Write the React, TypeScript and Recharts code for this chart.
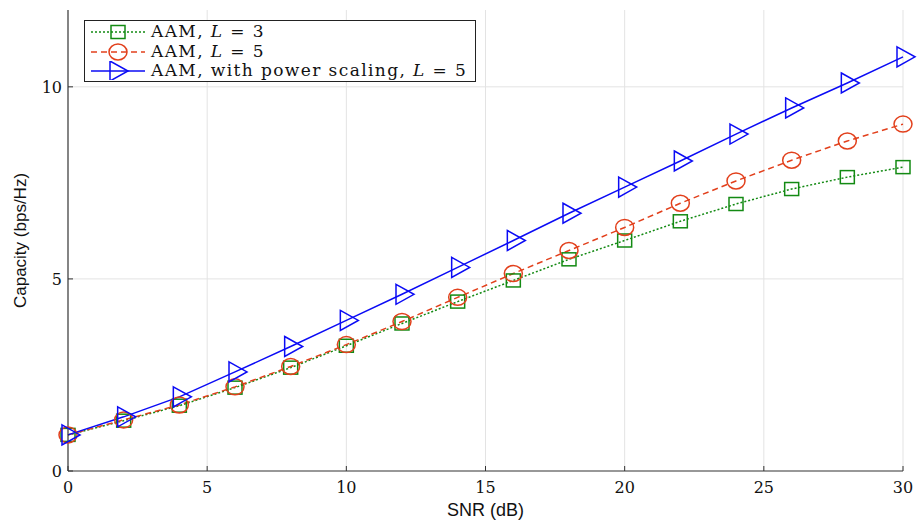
import React from "react";
import { CartesianGrid, Line, LineChart, XAxis, YAxis } from "recharts";

const snr = [0, 2, 4, 6, 8, 10, 12, 14, 16, 18, 20, 22, 24, 26, 28, 30];
const aamL3 = [0.94, 1.31, 1.7, 2.17, 2.69, 3.26, 3.84, 4.41, 4.96, 5.51, 6.0, 6.5, 6.95, 7.34, 7.65, 7.91];
const aamL5 = [0.94, 1.33, 1.72, 2.19, 2.72, 3.29, 3.89, 4.52, 5.14, 5.74, 6.34, 6.97, 7.55, 8.09, 8.59, 9.03];
const aamScaled = [0.94, 1.41, 1.93, 2.58, 3.24, 3.92, 4.6, 5.3, 6.0, 6.71, 7.39, 8.07, 8.77, 9.45, 10.1, 10.78];
const xTicks = [0, 5, 10, 15, 20, 25, 30];
const yTicks = [0, 5, 10];
const xGrid = [5, 10, 15, 20, 25, 30];
const yGrid = [5, 10];

const GREEN = "#138a13";
const RED = "#e2401c";
const BLUE = "#0b0bf5";
const SERIF = "DejaVu Serif";
const SANS = "Liberation Sans";

const data = snr.map((x, i) => ({ snr: x, l3: aamL3[i], l5: aamL5[i], ps: aamScaled[i] }));

type Mark = "square" | "circle" | "triangle";

function Marker({ kind, cx, cy, color }: { kind: Mark; cx: number; cy: number; color: string }) {
  if (kind === "square") {
    return <rect x={cx - 7} y={cy - 6.5} width={14} height={13} fill="none" stroke={color} strokeWidth={1.5} />;
  }
  if (kind === "circle") {
    return <ellipse cx={cx} cy={cy} rx={9} ry={8} fill="none" stroke={color} strokeWidth={1.5} />;
  }
  return (
    <polygon
      points={`${cx - 6},${cy - 10} ${cx + 12},${cy} ${cx - 6},${cy + 10}`}
      fill="none"
      stroke={color}
      strokeWidth={1.5}
    />
  );
}

function dotFor(kind: Mark, color: string) {
  return (props: any) => (
    <Marker key={`${kind}-${props.index}`} kind={kind} cx={props.cx} cy={props.cy} color={color} />
  );
}

function renderXTick(props: any) {
  const { x, y, payload } = props;
  return (
    <g key={`xt-${payload.value}`}>
      <line x1={x} x2={x} y1={y - 10} y2={y - 15} stroke="#333" strokeWidth={1} />
      <text x={x} y={y + 12} textAnchor="middle" style={{ fontFamily: SERIF, fontSize: 16 }} fill="#111">
        {payload.value}
      </text>
    </g>
  );
}

function renderYTick(props: any) {
  const { x, y, payload } = props;
  return (
    <g key={`yt-${payload.value}`}>
      <line x1={x + 6} x2={x + 11} y1={y} y2={y} stroke="#333" strokeWidth={1} />
      <text x={x} y={y + 6} textAnchor="end" style={{ fontFamily: SERIF, fontSize: 16 }} fill="#111">
        {payload.value}
      </text>
    </g>
  );
}

const legendRows: { label: string; color: string; dash: string; kind: Mark }[] = [
  { label: "AAM, ", color: GREEN, dash: "2 2", kind: "square" },
  { label: "AAM, ", color: RED, dash: "6 4", kind: "circle" },
  { label: "AAM, with power scaling, ", color: BLUE, dash: "", kind: "triangle" },
];
const legendL = ["3", "5", "5"];

function LegendBox() {
  return (
    <div
      style={{
        position: "absolute",
        left: 84,
        top: 20,
        width: 392,
        height: 62,
        boxSizing: "border-box",
        border: "1.3px solid #222",
        background: "#fff",
        padding: "1px 4px 1px 4px",
        fontFamily: SERIF,
        fontSize: 17,
        letterSpacing: 1.4,
        color: "#111",
        lineHeight: "19.5px",
      }}
    >
      {legendRows.map((r, i) => (
        <div key={i} style={{ display: "flex", alignItems: "center", whiteSpace: "nowrap" }}>
          <svg width={58} height={19} style={{ marginRight: 4 }}>
            <line x1={2} x2={56} y1={10} y2={10} stroke={r.color} strokeWidth={1.5} strokeDasharray={r.dash} />
            <Marker kind={r.kind} cx={r.kind === "triangle" ? 27 : 29} cy={10} color={r.color} />
          </svg>
          <span>
            {r.label}
            <i>L</i> = {legendL[i]}
          </span>
        </div>
      ))}
    </div>
  );
}

export default function App() {
  return (
    <div style={{ position: "absolute", left: 0, top: 0, width: 917, height: 521, background: "#fff" }}>
      <LineChart width={917} height={521} data={data} margin={{ top: 10, right: 14, bottom: 20, left: 0 }}>
        <CartesianGrid
          stroke="#e3e3e3"
          strokeWidth={1}
          horizontalValues={yGrid}
          verticalValues={xGrid}
        />
        <XAxis
          dataKey="snr"
          type="number"
          domain={[0, 30]}
          ticks={xTicks}
          tickSize={0}
          tickMargin={10}
          tick={renderXTick}
          axisLine={{ stroke: "#333", strokeWidth: 1.2 }}
          height={30}
          label={{ value: "SNR (dB)", position: "insideBottom", offset: -15, fontFamily: SANS, fontSize: 18, fill: "#111" }}
        />
        <YAxis
          type="number"
          domain={[0, 12]}
          ticks={yTicks}
          tickSize={0}
          tickMargin={6}
          tick={renderYTick}
          axisLine={{ stroke: "#333", strokeWidth: 1.2 }}
          width={68}
          label={{
            value: "Capacity (bps/Hz)",
            angle: -90,
            position: "insideLeft",
            offset: 20,
            style: { textAnchor: "middle" },
            fontFamily: SANS,
            fontSize: 17,
            fill: "#111",
          }}
        />
        <Line
          dataKey="l3"
          stroke={GREEN}
          strokeWidth={1.5}
          strokeDasharray="2 2"
          dot={dotFor("square", GREEN)}
          isAnimationActive={false}
        />
        <Line
          dataKey="l5"
          stroke={RED}
          strokeWidth={1.5}
          strokeDasharray="6 4"
          dot={dotFor("circle", RED)}
          isAnimationActive={false}
        />
        <Line
          dataKey="ps"
          stroke={BLUE}
          strokeWidth={1.5}
          dot={dotFor("triangle", BLUE)}
          isAnimationActive={false}
        />
      </LineChart>
      <LegendBox />
    </div>
  );
}
